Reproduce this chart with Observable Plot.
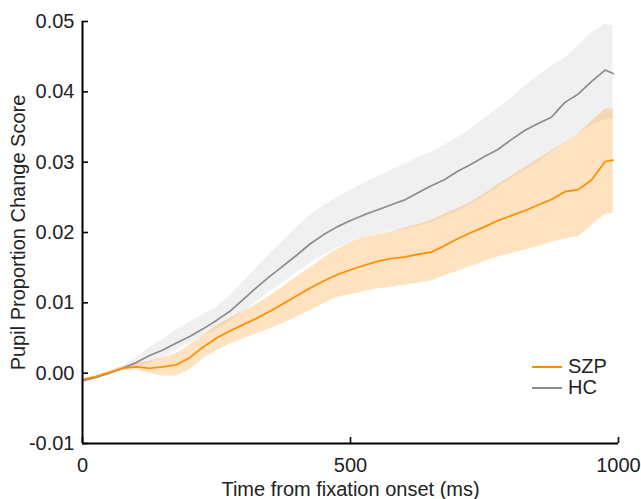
<!DOCTYPE html>
<html><head><meta charset="utf-8">
<script src="https://cdn.jsdelivr.net/npm/d3@7"></script>
<script src="https://cdn.jsdelivr.net/npm/@observablehq/plot@0.6"></script>
<style>
body{margin:0;background:#fff;}
#wrap{position:relative;width:641px;height:499px;font-family:"Liberation Sans",Arial,Helvetica,sans-serif;color:#222;}
#legend{position:absolute;left:532px;top:356px;font-size:20px;line-height:21px;}
.item{display:flex;align-items:center;height:21px;}
.sw{width:30px;height:0;border-top:2px solid;margin-right:6px;}
</style></head><body><div id="wrap"></div>
<script>
const time = [0,25,50,75,100,125,150,175,200,225,250,275,300,325,350,375,400,425,450,475,500,525,550,575,600,625,650,675,700,725,750,775,800,825,850,875,900,925,950,975,990];

const hcMean = [-0.0011,-0.0006,0.0000,0.0007,0.0015,0.0025,0.0033,0.0043,0.0052,0.0063,0.0075,0.0088,0.0105,0.0122,0.0138,0.0153,0.0168,0.0184,0.0197,0.0208,0.0217,0.0225,0.0232,0.0239,0.0246,0.0256,0.0266,0.0275,0.0287,0.0297,0.0308,0.0318,0.0332,0.0345,0.0355,0.0364,0.0385,0.0397,0.0415,0.0431,0.0426];
const hcLower = [-0.0012,-0.0007,-0.0002,0.0004,0.0008,0.0014,0.0022,0.0033,0.0043,0.0052,0.0062,0.0073,0.0087,0.0101,0.0116,0.0129,0.0143,0.0156,0.0168,0.0178,0.0187,0.0193,0.0198,0.0201,0.0204,0.0209,0.0214,0.0222,0.0230,0.0239,0.0251,0.0264,0.0276,0.0288,0.0300,0.0314,0.0326,0.0340,0.0352,0.0360,0.0362];
const hcUpper = [-0.0010,-0.0005,0.0002,0.0010,0.0022,0.0037,0.0048,0.0061,0.0072,0.0083,0.0094,0.0110,0.0130,0.0150,0.0170,0.0188,0.0207,0.0225,0.0238,0.0250,0.0260,0.0270,0.0279,0.0288,0.0297,0.0306,0.0314,0.0324,0.0335,0.0347,0.0362,0.0376,0.0391,0.0408,0.0423,0.0436,0.0448,0.0465,0.0484,0.0496,0.0494];

const szpMean = [-0.0009,-0.0005,0.0001,0.0007,0.0009,0.0007,0.0009,0.0012,0.0022,0.0037,0.0050,0.0060,0.0069,0.0078,0.0088,0.0099,0.0110,0.0121,0.0131,0.0140,0.0147,0.0153,0.0159,0.0163,0.0165,0.0169,0.0172,0.0181,0.0191,0.0200,0.0208,0.0217,0.0224,0.0231,0.0239,0.0247,0.0258,0.0261,0.0275,0.0301,0.0303];
const szpLower = [-0.0010,-0.0006,-0.0001,0.0004,0.0004,0.0000,-0.0004,-0.0004,0.0005,0.0020,0.0032,0.0041,0.0049,0.0056,0.0063,0.0071,0.0080,0.0089,0.0099,0.0108,0.0112,0.0116,0.0120,0.0122,0.0125,0.0128,0.0131,0.0138,0.0145,0.0152,0.0159,0.0165,0.0170,0.0175,0.0180,0.0186,0.0191,0.0194,0.0210,0.0226,0.0227];
const szpUpper = [-0.0008,-0.0004,0.0003,0.0010,0.0014,0.0017,0.0022,0.0028,0.0040,0.0053,0.0067,0.0078,0.0088,0.0098,0.0110,0.0123,0.0137,0.0150,0.0164,0.0176,0.0186,0.0193,0.0197,0.0200,0.0206,0.0211,0.0217,0.0226,0.0234,0.0243,0.0255,0.0268,0.0280,0.0292,0.0304,0.0316,0.0327,0.0340,0.0358,0.0375,0.0376];

const seriesNames = ["SZP", "HC"];
const seriesColors = ["#ff8c00", "#8c8c8c"];
const xTicks = [0, 500, 1000];
const yTicks = [-0.01, 0, 0.01, 0.02, 0.03, 0.04, 0.05];

const W = 641, H = 499, mL = 82, mR = 23, mT = 21, mB = 56, tickLen = 6;

const rows = (mean, lo, hi, name) => time.map((t, i) => ({t, mean: mean[i], lo: lo[i], hi: hi[i], series: name}));
const szp = rows(szpMean, szpLower, szpUpper, seriesNames[0]);
const hc = rows(hcMean, hcLower, hcUpper, seriesNames[1]);

const chart = Plot.plot({
  width: W, height: H,
  marginLeft: mL, marginRight: mR, marginTop: mT, marginBottom: mB,
  style: {fontFamily: '"Liberation Sans",Arial,Helvetica,sans-serif', fontSize: "20px", color: "#222", background: "white"},
  x: {domain: [0, 1000]},
  y: {domain: [-0.01, 0.05]},
  marks: [
    Plot.areaY(hc, {x: "t", y1: "lo", y2: "hi", fill: "#808080", fillOpacity: 0.12}),
    Plot.areaY(szp, {x: "t", y1: "lo", y2: "hi", fill: seriesColors[0], fillOpacity: 0.25}),
    Plot.lineY(hc, {x: "t", y: "mean", stroke: seriesColors[1], strokeWidth: 1.7}),
    Plot.lineY(szp, {x: "t", y: "mean", stroke: seriesColors[0], strokeWidth: 1.7}),
    Plot.axisX(xTicks, {anchor: "bottom", tickSize: 0, tickPadding: 14, tickFormat: d => String(d),
      label: "Time from fixation onset (ms)", labelAnchor: "center", labelArrow: "none", labelOffset: 52, fill: "#222"}),
    Plot.axisY(yTicks, {anchor: "left", tickSize: 0, tickPadding: 8, tickFormat: d => d.toFixed(2),
      label: "Pupil Proportion Change Score", labelAnchor: "center", labelArrow: "none", labelOffset: 72, fill: "#222"}),
    // inward ticks
    Plot.tickX(xTicks, {x: d => d, insetTop: (H - mT - mB) - tickLen, stroke: "black", strokeWidth: 1.6}),
    Plot.tickY(yTicks, {y: d => d, insetRight: (W - mL - mR) - tickLen, stroke: "black", strokeWidth: 1.6}),
    Plot.ruleX([0], {stroke: "black", strokeWidth: 2}),
    Plot.ruleY([-0.01], {stroke: "black", strokeWidth: 2})
  ]
});
const wrap = document.getElementById("wrap");
wrap.appendChild(chart);
const legend = document.createElement("div");
legend.id = "legend";
seriesNames.forEach((n, i) => {
  const it = document.createElement("div");
  it.className = "item";
  const sw = document.createElement("span");
  sw.className = "sw";
  sw.style.borderColor = seriesColors[i];
  const tx = document.createElement("span");
  tx.textContent = n;
  it.appendChild(sw); it.appendChild(tx);
  legend.appendChild(it);
});
wrap.appendChild(legend);
</script></body></html>
